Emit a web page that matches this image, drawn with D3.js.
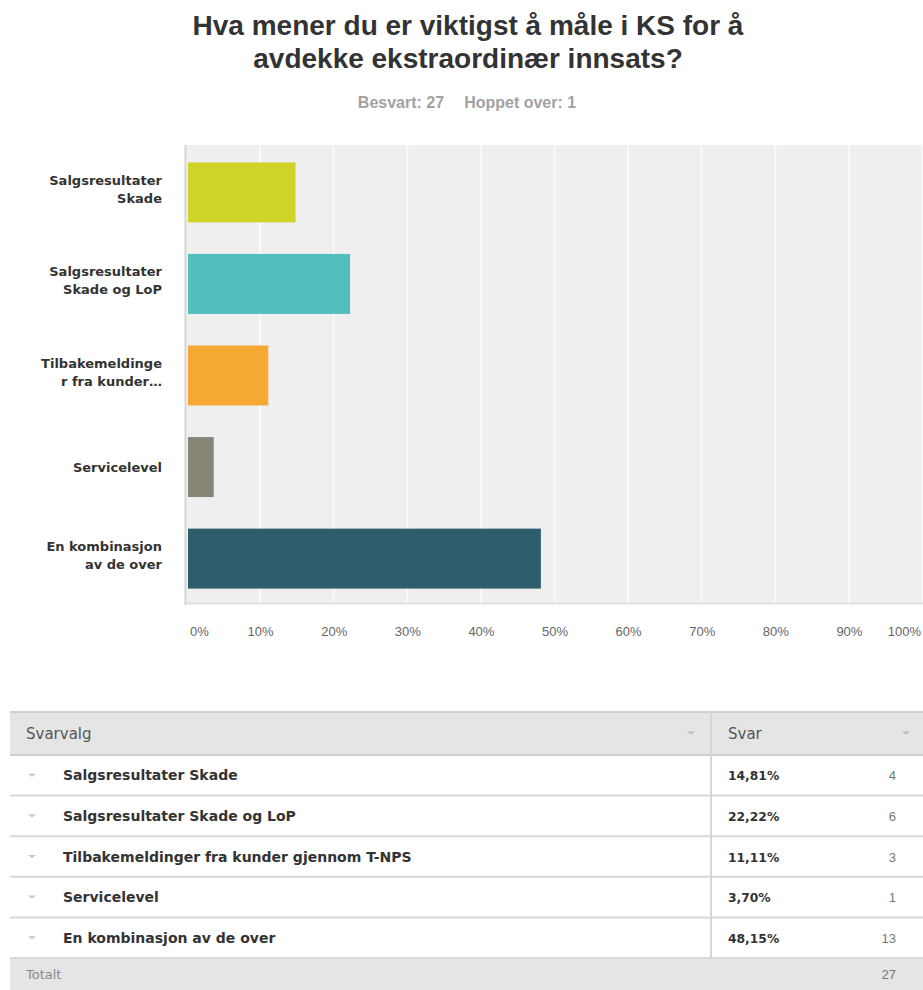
<!DOCTYPE html>
<html>
<head>
<meta charset="utf-8">
<script src="https://cdn.jsdelivr.net/npm/d3@7"></script>
<style>
  html, body { margin: 0; padding: 0; background: #fff; }
  svg { display: block; }
</style>
</head>
<body>
<svg id="chart" width="923" height="990"></svg>
<script>
// Survey question and response summary
const titleLines = ["Hva mener du er viktigst å måle i KS for å", "avdekke ekstraordinær innsats?"];
const answered = 27;
const skipped = 1;

// Answer options (full text for the table, wrapped text for the bar axis)
const options = [
  "Salgsresultater Skade",
  "Salgsresultater Skade og LoP",
  "Tilbakemeldinger fra kunder gjennom T-NPS",
  "Servicelevel",
  "En kombinasjon av de over"
];
const axisLabels = [
  ["Salgsresultater", "Skade"],
  ["Salgsresultater", "Skade og LoP"],
  ["Tilbakemeldinge", "r fra kunder…"],
  ["Servicelevel"],
  ["En kombinasjon", "av de over"]
];
const percents = [14.81, 22.22, 11.11, 3.70, 48.15];
const counts = [4, 6, 3, 1, 13];
const total = 27;
const barColors = ["#d0d428", "#52bebe", "#f5a833", "#878676", "#2e5d6b"];
const xTicks = [0, 10, 20, 30, 40, 50, 60, 70, 80, 90, 100];

const svg = d3.select("#chart");
const FONT = "'Liberation Sans', Arial, sans-serif";
const LABEL_FONT = "'DejaVu Sans', Verdana, sans-serif";

// ---- Title ----
svg.append("g").selectAll("text").data(titleLines).join("text")
  .attr("x", 468).attr("y", (d, i) => 35 + i * 33)
  .attr("text-anchor", "middle")
  .attr("font-family", FONT).attr("font-weight", "bold").attr("font-size", 28)
  .attr("fill", "#333").text(d => d);

const sub = svg.append("text")
  .attr("x", 467).attr("y", 108).attr("text-anchor", "middle")
  .attr("font-family", FONT).attr("font-weight", "bold").attr("font-size", 16)
  .attr("fill", "#a2a2a2");
sub.append("tspan").text(`Besvart: ${answered}`);
sub.append("tspan").attr("dx", 20).text(`Hoppet over: ${skipped}`);

// ---- Bar chart ----
const plot = { left: 186.5, right: 922.5, top: 145, bottom: 603 };
const x = d3.scaleLinear().domain([0, 100]).range([plot.left, plot.right]);
const y = d3.scaleBand().domain(options).range([plot.top, 606])
  .paddingInner(0.345).paddingOuter(0.19);

svg.append("rect")
  .attr("x", plot.left).attr("y", plot.top)
  .attr("width", 923 - plot.left).attr("height", plot.bottom - plot.top)
  .attr("fill", "#efefef");

// vertical gridlines
svg.append("g").selectAll("line").data(xTicks.slice(1)).join("line")
  .attr("x1", d => x(d)).attr("x2", d => x(d))
  .attr("y1", plot.top).attr("y2", plot.bottom)
  .attr("stroke", "#fafafa").attr("stroke-width", 2);

// bottom border and left axis line
svg.append("line")
  .attr("x1", plot.left).attr("x2", 923).attr("y1", plot.bottom + 0.5).attr("y2", plot.bottom + 0.5)
  .attr("stroke", "#e2e2e2").attr("stroke-width", 2);
svg.append("line")
  .attr("x1", plot.left - 1).attr("x2", plot.left - 1).attr("y1", plot.top).attr("y2", plot.bottom + 2)
  .attr("stroke", "#d4d4d4").attr("stroke-width", 2);

// bars
svg.append("g").selectAll("rect").data(options).join("rect")
  .attr("x", x(0) + 1.5)
  .attr("y", d => y(d))
  .attr("width", (d, i) => x(percents[i]) - x(0) - 1.5)
  .attr("height", y.bandwidth())
  .attr("fill", (d, i) => barColors[i]);

// category labels
const yl = svg.append("g").selectAll("text").data(options).join("text")
  .attr("text-anchor", "end")
  .attr("font-family", LABEL_FONT).attr("font-weight", "bold").attr("font-size", 13)
  .attr("fill", "#333");
yl.each(function (d, i) {
  const lines = axisLabels[i];
  const c = y(d) + y.bandwidth() / 2;
  const start = lines.length === 1 ? c + 4.5 : c - 7.5;
  d3.select(this).selectAll("tspan").data(lines).join("tspan")
    .attr("x", 162).attr("y", (t, j) => start + j * 18).text(t => t);
});

// x axis tick labels
const xAxis = d3.axisBottom(x).tickValues(xTicks).tickFormat(d => d + "%").tickSize(0).tickPadding(0);
const gx = svg.append("g").attr("transform", "translate(0,627)").call(xAxis);
gx.select(".domain").remove();
gx.selectAll("text")
  .attr("font-family", FONT).attr("font-size", 13).attr("fill", "#666")
  .attr("dy", "0.71em");
gx.selectAll(".tick").filter(d => d === 0).select("text").attr("text-anchor", "start").attr("x", 3);
gx.selectAll(".tick").filter(d => d === 100).select("text").attr("text-anchor", "end").attr("x", -2);

// ---- Response table ----
const table = { left: 10, right: 923, top: 712, headH: 43, rowH: 40.6, divider: 711 };
const rowTop = i => table.top + table.headH + i * table.rowH;
const totalTop = rowTop(options.length);
const t = svg.append("g");

t.append("rect").attr("x", table.left).attr("y", table.top)
  .attr("width", table.right - table.left).attr("height", table.headH).attr("fill", "#e5e5e5");
t.append("rect").attr("x", table.left).attr("y", totalTop)
  .attr("width", table.right - table.left).attr("height", 990 - totalTop).attr("fill", "#e5e5e5");

// horizontal rules
const rules = [table.top, table.top + table.headH].concat(options.map((d, i) => rowTop(i + 1)));
t.selectAll("line.rule").data(rules).join("line").attr("class", "rule")
  .attr("x1", table.left).attr("x2", table.right).attr("y1", d => d).attr("y2", d => d)
  .attr("stroke", (d, i) => i < 2 ? "#cfcfcf" : "#d9d9d9").attr("stroke-width", 2);
t.append("line")
  .attr("x1", table.divider).attr("x2", table.divider).attr("y1", table.top).attr("y2", totalTop)
  .attr("stroke", "#d6d6d6").attr("stroke-width", 2);

// small dropdown markers
const tri = (cx, cy) => `M${cx - 4},${cy - 1.5}L${cx + 4},${cy - 1.5}L${cx},${cy + 1.5}Z`;
t.selectAll("path.head").data([691, 906]).join("path").attr("class", "head")
  .attr("d", d => tri(d, table.top + 21)).attr("fill", "#bdbdbd");
t.selectAll("path.row").data(options).join("path").attr("class", "row")
  .attr("d", (d, i) => tri(32, rowTop(i) + table.rowH / 2)).attr("fill", "#c4c4c4");

// header text
t.append("text").attr("x", 26).attr("y", table.top + 27)
  .attr("font-family", LABEL_FONT).attr("font-size", 15).attr("fill", "#555").text("Svarvalg");
t.append("text").attr("x", 728).attr("y", table.top + 27)
  .attr("font-family", LABEL_FONT).attr("font-size", 15).attr("fill", "#555").text("Svar");

const fmtPct = v => v.toFixed(2).replace(".", ",") + "%";
const rows = t.selectAll("g.r").data(options).join("g").attr("class", "r")
  .attr("transform", (d, i) => `translate(0,${rowTop(i) + table.rowH / 2 + 5})`);
rows.append("text").attr("x", 63)
  .attr("font-family", LABEL_FONT).attr("font-weight", "bold").attr("font-size", 14)
  .attr("fill", "#333").text(d => d);
rows.append("text").attr("x", 728)
  .attr("font-family", LABEL_FONT).attr("font-weight", "bold").attr("font-size", 12.3)
  .attr("fill", "#333").text((d, i) => fmtPct(percents[i]));
rows.append("text").attr("x", 896).attr("text-anchor", "end")
  .attr("font-family", FONT).attr("font-size", 13)
  .attr("fill", "#777").text((d, i) => counts[i]);

// totals row
t.append("text").attr("x", 26).attr("y", totalTop + 21)
  .attr("font-family", LABEL_FONT).attr("font-size", 13).attr("fill", "#8a8a8a").text("Totalt");
t.append("text").attr("x", 896).attr("y", totalTop + 21).attr("text-anchor", "end")
  .attr("font-family", FONT).attr("font-size", 13).attr("fill", "#777").text(total);
</script>
</body>
</html>
